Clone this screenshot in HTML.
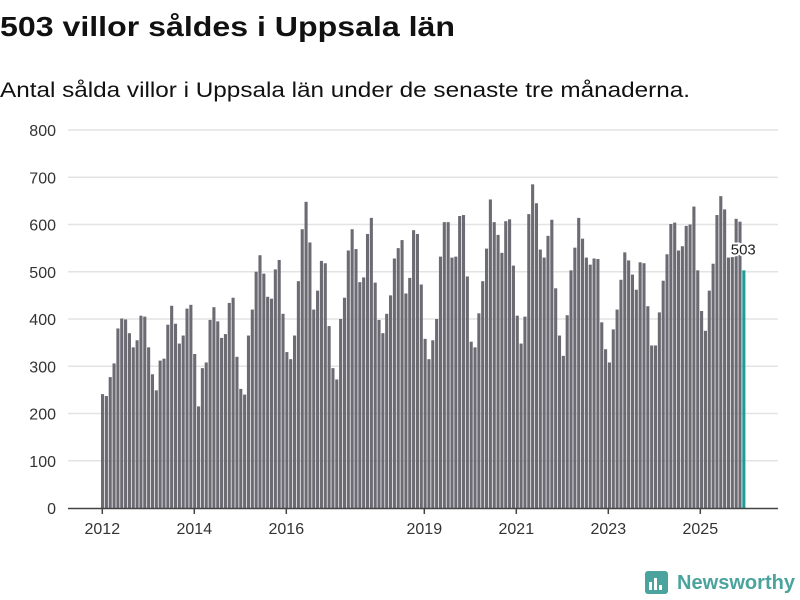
<!DOCTYPE html>
<html><head><meta charset="utf-8"><style>
html,body{margin:0;padding:0;background:#fff;}
svg{display:block;font-family:"Liberation Sans",sans-serif;}
</style></head><body>
<svg id="chart" width="800" height="600" viewBox="0 0 800 600">
<text x="0" y="36" font-size="28" font-weight="bold" fill="#111" textLength="455" lengthAdjust="spacingAndGlyphs">503 villor såldes i Uppsala län</text>
<text x="0" y="97" font-size="21" fill="#111" textLength="690" lengthAdjust="spacingAndGlyphs">Antal sålda villor i Uppsala län under de senaste tre månaderna.</text>
<g id="grid"></g>
<g id="bars"></g>
<g id="xaxis"></g>
<g>
<rect x="645" y="571" width="23" height="23" rx="3" fill="#4aa39c"/>
<rect x="649" y="582" width="3" height="8" fill="#fff"/>
<rect x="654" y="578" width="3" height="12" fill="#fff"/>
<rect x="659" y="585" width="3" height="5" fill="#fff"/>
<text x="677" y="589" font-size="20" font-weight="bold" fill="#4aa39c" textLength="118" lengthAdjust="spacingAndGlyphs">Newsworthy</text>
</g>
</svg>
<script>
const yTicks = [0,100,200,300,400,500,600,700,800];
const xTickYears = [2012,2014,2016,2019,2021,2023,2025];
const values = [
241,237,277,306,380,401,399,370,340,355,407,405,340,
283,249,312,316,388,428,390,348,365,422,430,326,
215,296,308,398,425,395,360,368,434,445,320,252,
240,365,420,500,535,496,447,443,505,525,411,
330,315,365,480,590,648,562,420,460,523,518,385,
296,272,400,445,545,590,548,478,488,580,614,477,
398,370,411,450,528,550,567,454,487,588,580,473,
358,315,355,400,532,605,605,530,532,618,620,490,
352,340,412,480,549,653,605,578,540,607,611,513,
407,348,405,622,685,645,547,530,576,610,465,365,
322,408,503,551,614,570,530,515,528,527,393,336,
308,378,420,483,541,524,494,462,520,518,427,344,
344,414,481,537,601,604,545,554,597,600,638,503,
417,375,460,517,620,660,632,530,531,612,606,503
];
const lastLabel = "503";
const NS='http://www.w3.org/2000/svg';
const y0=508, yTop=130, yMax=800;
function yS(v){return y0-(v/yMax)*(y0-yTop);}
const barX0=101, step=3.84;
function xS(i){return barX0+i*step;}
function xYear(yr){return 102.3+(yr-2012)*46;}
function mk(t,a,p){const e=document.createElementNS(NS,t);for(const k in a)e.setAttribute(k,a[k]);p.appendChild(e);return e;}
const grid=document.getElementById('grid');
yTicks.forEach(v=>{
  if(v>0){const l=mk('line',{x1:68,x2:778,y1:yS(v),y2:yS(v),stroke:'#e3e3e3','stroke-width':1.5},grid);
  
  }
  const t=mk('text',{x:56,y:yS(v)+6,'font-size':16,fill:'#333','text-anchor':'end'},grid);
  t.textContent=v;
  
  
});
const bars=document.getElementById('bars');
values.forEach((v,i)=>{
  const last=i===values.length-1;
  const r=mk('rect',{x:xS(i),y:yS(v),width:3.1,height:y0-yS(v),fill:last?'#239a94':'#6c6b73'},bars);
  
  
});
const li=values.length-1;
const lt=mk('text',{x:xS(li)+1,y:yS(values[li])-16,'font-size':15,fill:'#222','text-anchor':'middle',stroke:'#fff','stroke-width':4,'paint-order':'stroke'},bars);
lt.textContent=lastLabel;


const xa=document.getElementById('xaxis');
mk('line',{x1:68,x2:778,y1:y0+0.5,y2:y0+0.5,stroke:'#444','stroke-width':1.5},xa);
xTickYears.forEach(yr=>{
  const x=xYear(yr);
  mk('line',{x1:x,x2:x,y1:y0,y2:y0+6,stroke:'#444','stroke-width':1.5},xa);
  const t=mk('text',{x:x,y:y0+26,'font-size':16,fill:'#333','text-anchor':'middle'},xa);
  t.textContent=yr;
  
  
});
</script>
</body></html>
